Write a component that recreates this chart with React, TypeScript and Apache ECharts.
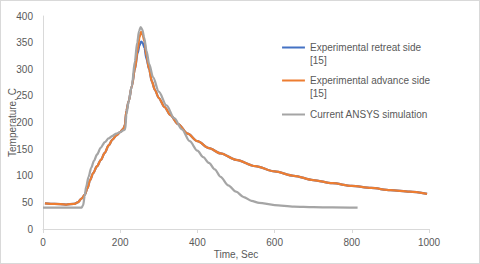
import React, { useEffect, useRef } from "react";
import * as echarts from "echarts";

const seriesNames = [
  "Experimental retreat side [15]",
  "Experimental advance side [15]",
  "Current ANSYS simulation",
];

const advTime = [5, 30, 60, 80, 90, 100, 108, 115, 122, 130, 140, 150, 160, 170, 180, 190, 200, 208, 212, 216, 222, 230, 238, 245, 250, 254, 258, 263, 268, 275, 282, 290, 300, 315, 330, 350, 375, 400, 430, 460, 500, 550, 600, 650, 700, 750, 800, 850, 900, 950, 995];
const advTemp = [48, 47, 46, 47, 50, 57, 64, 76, 92, 105, 118, 130, 143, 157, 168, 176, 182, 188, 195, 222, 240, 268, 300, 335, 360, 370, 365, 352, 325, 300, 277, 261, 246, 229, 214, 197, 179, 165, 152, 142, 130, 118, 108, 100, 92, 86, 81, 77, 73, 70, 66];

const retTime = advTime;
const retTemp = [48, 47, 46, 47, 50, 57, 64, 76, 92, 105, 118, 130, 143, 157, 168, 176, 182, 188, 195, 222, 240, 268, 300, 330, 345, 352, 350, 340, 320, 300, 277, 261, 246, 229, 214, 197, 179, 165, 152, 142, 130, 118, 108, 100, 92, 86, 81, 77, 73, 70, 66];

const simTime = [0, 50, 100, 104, 108, 112, 118, 125, 132, 140, 150, 160, 170, 180, 190, 200, 208, 213, 216, 222, 230, 238, 244, 249, 253, 257, 262, 268, 275, 285, 300, 320, 340, 360, 380, 400, 415, 430, 445, 460, 480, 500, 520, 540, 560, 600, 650, 700, 750, 815];
const simTemp = [40, 40, 40, 45, 62, 80, 98, 115, 128, 140, 153, 163, 170, 175, 179, 182, 185, 187, 215, 240, 268, 315, 350, 372, 379, 375, 360, 335, 310, 285, 258, 232, 208, 187, 165, 147, 135, 124, 112, 98, 82, 70, 60, 53, 49, 45, 42, 41, 40.5, 40];

const colors = ["#4472C4", "#ED7D31", "#A5A5A5"];

const zip = (xs: number[], ys: number[]) => xs.map((x, i) => [x, ys[i]]);

const twoLineIcon = "path://M0,0H23V2H0Z M0,15H0.1V15.1H0Z";
const oneLineIcon = "path://M0,0H0.1V0.1H0Z M0,6.5H23V8.5H0Z M0,14.9H0.1V15H0Z";

export default function App() {
  const ref = useRef<HTMLDivElement>(null);
  useEffect(() => {
    if (!ref.current) return;
    const chart = echarts.init(ref.current, null, { renderer: "svg" });
    const font = "'Liberation Sans', Arial, sans-serif";
    chart.setOption({
      animation: false,
      textStyle: { fontFamily: font },
      grid: { left: 43, right: 51, top: 16, bottom: 35, containLabel: false, outerBoundsMode: "none" },
      legend: {
        orient: "vertical",
        left: 277,
        top: 36,
        itemWidth: 23,
        itemHeight: 15,
        itemGap: 7,
        textStyle: { color: "#595959", fontSize: 10, lineHeight: 13, fontFamily: font },
        formatter: (name: string) => name.replace(" [15]", "\n[15]"),
        data: [
          { name: seriesNames[0], icon: twoLineIcon },
          { name: seriesNames[1], icon: twoLineIcon },
          { name: seriesNames[2], icon: oneLineIcon },
        ],
      },
      xAxis: {
        type: "value",
        min: 0,
        max: 1000,
        interval: 200,
        name: "Time, Sec",
        nameLocation: "middle",
        nameGap: 20,
        nameMoveOverlap: false,
        nameTextStyle: { color: "#595959", fontSize: 10 },
        axisLine: { show: true, lineStyle: { color: "#d9d9d9", width: 1 } },
        axisTick: { show: true, length: 4, lineStyle: { color: "#d9d9d9" } },
        axisLabel: { color: "#595959", fontSize: 10, margin: 8, formatter: (v: number) => String(v) },
        splitLine: { show: false },
      },
      yAxis: {
        type: "value",
        min: 0,
        max: 400,
        interval: 50,
        name: "Temperature, C",
        nameLocation: "middle",
        nameGap: 26,
        nameRotate: 90,
        nameMoveOverlap: false,
        nameTextStyle: { color: "#595959", fontSize: 10 },
        axisLine: { show: true, lineStyle: { color: "#d9d9d9", width: 1 } },
        axisTick: { show: false },
        axisLabel: { color: "#595959", fontSize: 10, margin: 10, formatter: (v: number) => String(v) },
        splitLine: { show: false },
      },
      series: [
        { name: seriesNames[0], data: zip(retTime, retTemp) },
        { name: seriesNames[1], data: zip(advTime, advTemp) },
        { name: seriesNames[2], data: zip(simTime, simTemp) },
      ].map((s, i) => ({
        ...s,
        type: "line",
        showSymbol: false,
        smooth: 0.3,
        smoothMonotone: "x",
        color: colors[i],
        itemStyle: { color: colors[i] },
        lineStyle: { color: colors[i], width: 2.25 },
      })),
    });
    return () => chart.dispose();
  }, []);
  return (
    <div
      style={{
        position: "fixed",
        left: 0,
        top: 0,
        width: 480,
        height: 264,
        boxSizing: "border-box",
        border: "1px solid #d9d9d9",
        background: "#fff",
      }}
    >
      <div ref={ref} style={{ position: "absolute", left: -1, top: -1, width: 480, height: 264 }} />
    </div>
  );
}
